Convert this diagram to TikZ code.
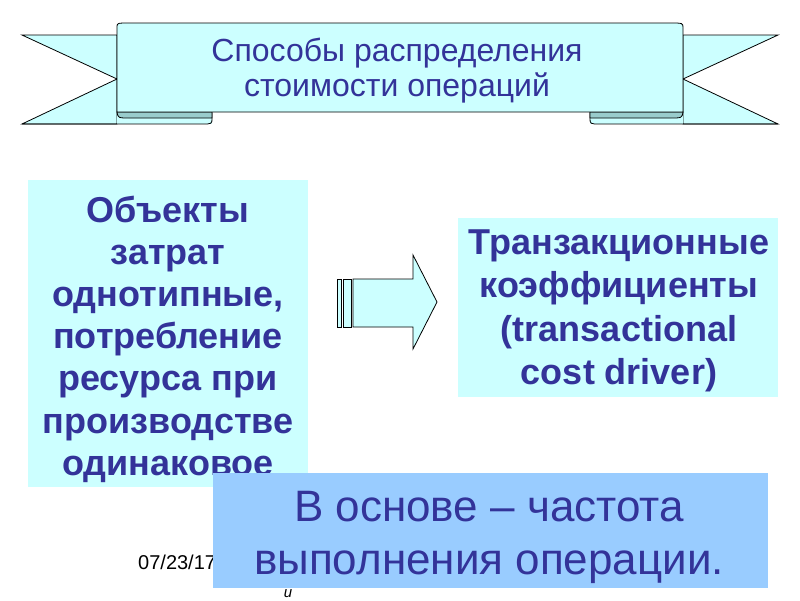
\documentclass[tikz,border=0pt]{standalone}
\usepackage{fontspec}
\setmainfont{Liberation Sans}
\definecolor{lcyan}{HTML}{CCFFFF}
\definecolor{foldc}{HTML}{99CCCC}
\definecolor{tblue}{HTML}{333399}
\definecolor{bbox}{HTML}{99CCFF}
\begin{document}
\begin{tikzpicture}[x=1pt,y=-1pt,
  rib/.style={fill=lcyan,draw=black,line width=0.8pt,line join=miter},
  foldst/.style={fill=foldc,draw=black,line width=0.8pt},
  boldtxt/.style={text=tblue,align=center,inner sep=0pt},
]
\useasboundingbox[fill=white] (0,0) rectangle (800,600);

% ---- ribbon tails
\path[rib] (22,35) -- (117,35) -- (117,124) -- (22,124) -- (117,79) -- cycle;
\path[rib] (778,35) -- (683,35) -- (683,124) -- (778,124) -- (683,79) -- cycle;
% bottom strips of tails
\fill[lcyan] (117,112) rectangle (212,124);
\fill[lcyan] (590,112) rectangle (683,124);
\draw[line width=0.8pt] (22,124) -- (202,124) .. controls (212,124) .. (212,118) -- (212,112);
\draw[line width=0.8pt] (778,124) -- (600,124) .. controls (590,124) .. (590,118) -- (590,112);
% folds
\path[foldst] (117,112) .. controls (118,118) .. (130,118) -- (212,118) -- (212,112) -- cycle;
\path[foldst] (683,112) .. controls (682,118) .. (670,118) -- (590,118) -- (590,112) -- cycle;
% main panel
\path[rib] (117,112) -- (117,27) .. controls (117,23) .. (130,23) -- (670,23)
  .. controls (683,23) .. (683,28) -- (683,112) -- cycle;
\node[text=tblue,font=\fontsize{32}{35}\selectfont,align=center] (title) at (397,71)
  {Способы распределения\\ стоимости операций};

% ---- left box
\fill[lcyan] (28,180) rectangle (308,487);
\node[boldtxt,font=\bfseries\fontsize{36}{42.2}\selectfont] (left) at (168,339)
  {Объекты\\затрат\\однотипные,\\потребление\\ресурса при\\производстве\\одинаковое};

% ---- right box
\fill[lcyan] (458,218) rectangle (778,397);
\node[boldtxt,font=\bfseries\fontsize{36}{43.5}\selectfont] (right) at (619,311)
  {Транзакционные\\коэффициенты\\(transactional\\cost driver)};

% ---- block arrow
\path[rib] (337,279) rectangle (341,327);
\path[rib] (343,279) rectangle (351,327);
\path[rib] (353,279) -- (413,279) -- (413,255) -- (437,302) -- (413,349) -- (413,327) -- (353,327) -- cycle;

% ---- footer
\node[anchor=base west,inner sep=0pt,font=\fontsize{20}{22}\selectfont] (date) at (138,569) {07/23/17};
\node[anchor=base,inner sep=0pt,font=\fontsize{15}{17}\selectfont\itshape] (footer) at (288,597) {и};

% ---- bottom box
\fill[bbox] (213,473) rectangle (768,588);
\node[text=tblue,font=\fontsize{44}{53}\selectfont,align=center,inner sep=0pt] (bottom) at (489,537)
  {В основе – частота\\выполнения операции.};
\end{tikzpicture}
\end{document}
